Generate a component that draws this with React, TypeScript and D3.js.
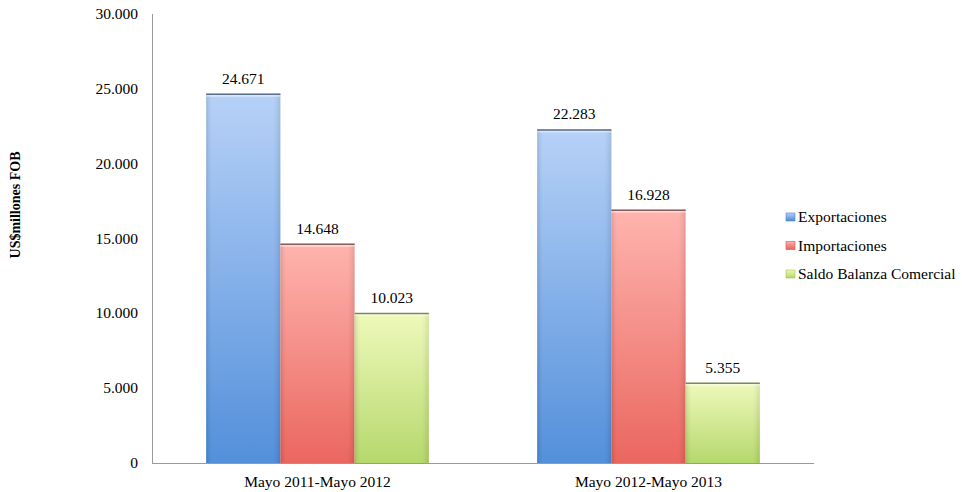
import * as d3 from 'd3';

const categories = ['Mayo 2011-Mayo 2012', 'Mayo 2012-Mayo 2013'];
const seriesNames = ['Exportaciones', 'Importaciones', 'Saldo Balanza Comercial'];
const exportaciones = [24671, 22283];
const importaciones = [14648, 16928];
const saldo = [10023, 5355];
const yTicks = [0, 5000, 10000, 15000, 20000, 25000, 30000];

const seriesValues = [exportaciones, importaciones, saldo];
const palette = [
    { top: '#b3cff7', bottom: '#4a8ad9', edge: '#5b6f8c', legend: '#4f87d0' },
    { top: '#ffb0aa', bottom: '#e95f57', edge: '#8a5c5a', legend: '#d85a54' },
    { top: '#eef9b8', bottom: '#b2d665', edge: '#7d8660', legend: '#9fc463' },
];

const font = '"Liberation Serif", "DejaVu Serif", serif';
const fs = 15.5;
const fmt = (v: number) => (v === 0 ? '0' : d3.format(',')(v).replace(/,/g, '.'));

export default function App() {
    const W = 962, H = 492;
    const left = 152, right = 814, top = 14, bottom = 463;

    const x0 = d3.scaleBand<string>().domain(categories).range([left, right]);
    const x1 = d3.scaleBand<number>().domain([0, 1, 2]).range([0, x0.bandwidth()]).paddingOuter(0.73).paddingInner(0);
    const y = d3.scaleLinear().domain([0, 30000]).range([bottom, top]);

    return (
        <svg width={W} height={H} style={{ position: 'absolute', left: 0, top: 0, fontFamily: font }}>
            <defs>
                {palette.map((p, i) => (
                    <linearGradient key={i} id={`g${i}`} x1="0" y1="0" x2="0" y2="1">
                        <stop offset="0" stopColor={p.top} />
                        <stop offset="1" stopColor={p.bottom} />
                    </linearGradient>
                ))}
                <linearGradient id="side" x1="0" y1="0" x2="1" y2="0">
                    <stop offset="0" stopColor="#000" stopOpacity={0.12} />
                    <stop offset="0.08" stopColor="#fff" stopOpacity={0.05} />
                    <stop offset="0.9" stopColor="#fff" stopOpacity={0.05} />
                    <stop offset="1" stopColor="#000" stopOpacity={0.1} />
                </linearGradient>
            </defs>

            {/* axes */}
            <line x1={left + 0.5} x2={left + 0.5} y1={top} y2={bottom} stroke="#9a9a9a" />
            <line x1={left} x2={right} y1={bottom + 0.5} y2={bottom + 0.5} stroke="#9a9a9a" />

            {yTicks.map(t => (
                <text key={t} x={138} y={y(t) + 5} textAnchor="end" fontSize={fs} fill="#000">{fmt(t)}</text>
            ))}

            <text transform={`translate(20,205) rotate(-90)`} textAnchor="middle" fontSize={14} fontWeight="bold">US$millones FOB</text>

            {/* bars */}
            {categories.map((c, ci) => (
                <g key={c}>
                    {seriesValues.map((vals, si) => {
                        const bx = x0(c)! + x1(si)!;
                        const bw = x1.bandwidth();
                        const by = y(vals[ci]);
                        const bh = bottom - by;
                        return (
                            <g key={si}>
                                <rect x={bx} y={by} width={bw} height={bh} fill={`url(#g${si})`} />
                                <rect x={bx} y={by} width={bw} height={bh} fill="url(#side)" />
                                <rect x={bx} y={by + 1} width={bw} height={2} fill="#fff" opacity={0.45} />
                                <line x1={bx} x2={bx + bw} y1={by + 0.5} y2={by + 0.5} stroke={palette[si].edge} strokeWidth={1.5} />
                                <text x={bx + bw / 2} y={by - 10} textAnchor="middle" fontSize={fs}>{fmt(vals[ci])}</text>
                            </g>
                        );
                    })}
                    <text x={x0(c)! + x0.bandwidth() / 2} y={bottom + 24} textAnchor="middle" fontSize={fs}>{c}</text>
                </g>
            ))}

            {/* legend */}
            {seriesNames.map((n, i) => (
                <g key={n} transform={`translate(786,${217 + i * 28.5})`}>
                    <rect x={0} y={-4} width={9} height={8} fill={`url(#g${i})`} stroke={palette[i].legend} strokeWidth={0.6} />
                    <text x={12} y={5} fontSize={fs}>{n}</text>
                </g>
            ))}
        </svg>
    );
}
